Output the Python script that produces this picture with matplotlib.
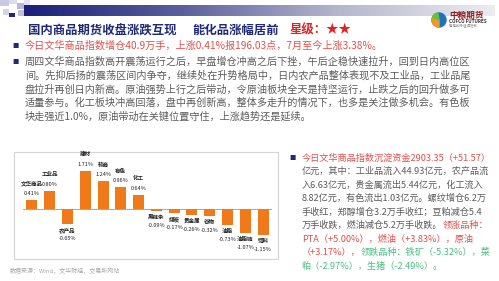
import matplotlib
matplotlib.use("Agg")
import matplotlib.pyplot as plt
import numpy as np
from matplotlib.colors import LinearSegmentedColormap
from matplotlib.patches import Rectangle, Circle, Wedge

plt.rcParams['font.family'] = ['Noto Sans CJK SC', 'DejaVu Sans']

# chart data
categories = ['文华商品', '工业品', '农产品', '建材', '软商', '有色', '化工',
              '黑链条', '煤炭', '贵金属', '谷物', '油脂', '油脂链', '饲料']
changes = [0.41, 0.80, -0.65, 1.71, 1.24, 0.96, 0.64,
           -0.09, -0.17, -0.26, -0.32, -0.73, -1.07, -1.15]

title_left = '国内商品期货收盘涨跌互现'
title_mid = '能化品涨幅居前'
title_star = '星级：★★'

bullet1 = '今日文华商品指数增仓40.9万手，上涨0.41%报196.03点，7月至今上涨3.38%。'
para_lines = [
    '周四文华商品指数高开震荡运行之后，早盘增仓冲高之后下挫，午后企稳快速拉升，回到日内高位区',
    '间。先抑后扬的震荡区间内争夺，继续处在升势格局中，日内农产品整体表现不及工业品，工业品尾',
    '盘拉升再创日内新高。原油强势上行之后带动，令原油板块全天是持坚运行，止跌之后的回升做多可',
    '适量参与。化工板块冲高回落，盘中再创新高，整体多走升的情况下，也多是关注做多机会。有色板',
    '块走强近1.0%，原油带动在关键位置守住，上涨趋势还是延续。',
]

# right text: each line is a list of (text, colour key)
right_lines = [
    [('今日文华商品指数沉淀资金2903.35（+51.57）', 'r')],
    [('亿元，其中：工业品流入44.93亿元，农产品流', 'g')],
    [('入6.63亿元，贵金属流出5.44亿元，化工流入', 'g')],
    [('8.82亿元，有色流出1.03亿元。螺纹增仓6.2万', 'g')],
    [('手收红，郑醇增仓3.2万手收红；豆粕减仓5.4', 'g')],
    [('万手收跌，燃油减仓5.2万手收跌。', 'g'), ('领涨品种：', 'r')],
    [('PTA（+5.00%），燃油（+3.83%），原油', 'r')],
    [('（+3.17%），', 'r'), ('领跌品种：铁矿（-5.32%），菜', 'n')],
    [('粕（-2.97%），生猪（-2.49%）。', 'n')],
]
source = '数据来源：Wind，文华财经，交易所网站'

RED = '#e0504c'
GRAY = '#5c5c5c'
GREEN = '#4cbf85'
NAVY = '#1f2a78'
ORANGE = '#f07a1a'
cmap_txt = {'r': RED, 'g': GRAY, 'n': GREEN}

fig = plt.figure(figsize=(4.99, 2.81), dpi=100)
fig.patch.set_facecolor('white')

# background axes in pixel coordinates
bg = fig.add_axes([0, 0, 1, 1])
bg.set_xlim(0, 499)
bg.set_ylim(281, 0)
bg.axis('off')

# header decoration
grad = LinearSegmentedColormap.from_list('hdr', ['#1a2078', '#5a5f9c', '#b4b6cc', '#ededf0'])
bg.imshow(np.linspace(0, 1, 256)[None, :], cmap=grad, aspect='auto',
          extent=[24, 495, 16, 5], zorder=1)
for (x, y, w, h, c) in [(0, 0, 9, 6, '#c9c9e0'), (9, 0, 8, 4, '#dcdcec'),
                        (17, 3, 7, 6, '#b8b8d6'), (3, 9, 6, 6, '#d4d4e6'),
                        (9, 13, 6, 4, NAVY), (18, 10, 6, 6, '#c0c0da'),
                        (24, 0, 6, 5, '#e2e2ee')]:
    bg.add_patch(Rectangle((x, y), w, h, color=c, zorder=2, lw=0))

bg.text(28, 30, title_left, fontsize=8.9, fontweight='bold', color=NAVY, va='center')
bg.text(192, 30, title_mid, fontsize=8.9, fontweight='bold', color=NAVY, va='center')
bg.text(290, 30, title_star, fontsize=8.9, fontweight='bold', color='#e02424', va='center')

# logo
bg.add_patch(Circle((439, 20), 7, color='#1e72c4', zorder=3))
bg.add_patch(Wedge((439, 20), 7, 90, 200, color='#f39a1e', zorder=4))
bg.add_patch(Wedge((439, 20), 7, 200, 260, color='#6cbf3c', zorder=4))
bg.text(449, 15.5, '中粮期货', fontsize=6.2, fontweight='bold', color='#8c1d1d', va='center')
bg.text(449, 21.5, 'COFCO FUTURES', fontsize=3.3, fontweight='bold', color='#333333', va='center')
bg.text(449, 26, '稳健前行 值得信赖', fontsize=2.4, color='#888888', va='center')

# left bullets
bg.text(12, 46, '■', fontsize=4.5, color=NAVY, va='center')
bg.text(25, 46, bullet1, fontsize=7.3, color=RED, va='center')
bg.text(12, 62, '■', fontsize=4.5, color=NAVY, va='center')
for i, line in enumerate(para_lines):
    bg.text(25, 62 + i * 13.6, line, fontsize=7.3, color=GRAY, va='center')

# right text
bg.text(289, 158, '■', fontsize=4.5, color=NAVY, va='center')
renderer = fig.canvas.get_renderer()
for i, parts in enumerate(right_lines):
    x = 302
    y = 158 + i * 13.5
    for txt, c in parts:
        t = bg.text(x, y, txt, fontsize=6.6, color=cmap_txt[c], va='center')
        bb = t.get_window_extent(renderer=renderer)
        x += bb.width * 499 / fig.bbox.width

# chart frame
bg.add_patch(Rectangle((14, 152), 264, 107, fill=False, ec='#d4d4d4', lw=0.8, zorder=2))
bg.text(10, 271, source, fontsize=4.3, color='#a8a8a8', va='center')

# bar chart
ax = fig.add_axes([23 / 499, 23 / 281, 249 / 499, 103 / 281])
ax.patch.set_alpha(0)
x = np.arange(len(categories))
ax.bar(x, changes, width=0.62, color=ORANGE, edgecolor='none', zorder=2)
ax.axhline(0, color='#9a9a9a', lw=0.6, zorder=1)
ax.set_xlim(-0.5, len(categories) - 0.5)
ax.set_ylim(-2.18, 2.4)
ax.axis('off')

for xi, name, v in zip(x, categories, changes):
    if v >= 0:
        off_name, off_val = 16, 6.5
    else:
        off_name, off_val = -6.5, -14.5
    ax.annotate(name, (xi, v), xytext=(0, off_name), textcoords='offset pixels',
                ha='center', va='center', fontsize=4, fontweight='bold',
                color='#222222', annotation_clip=False)
    ax.annotate(f'{v:.2f}%', (xi, v), xytext=(0, off_val), textcoords='offset pixels',
                ha='center', va='center', fontsize=4, color='#222222',
                annotation_clip=False)

fig.savefig('out.png', dpi=100)
plt.close(fig)
